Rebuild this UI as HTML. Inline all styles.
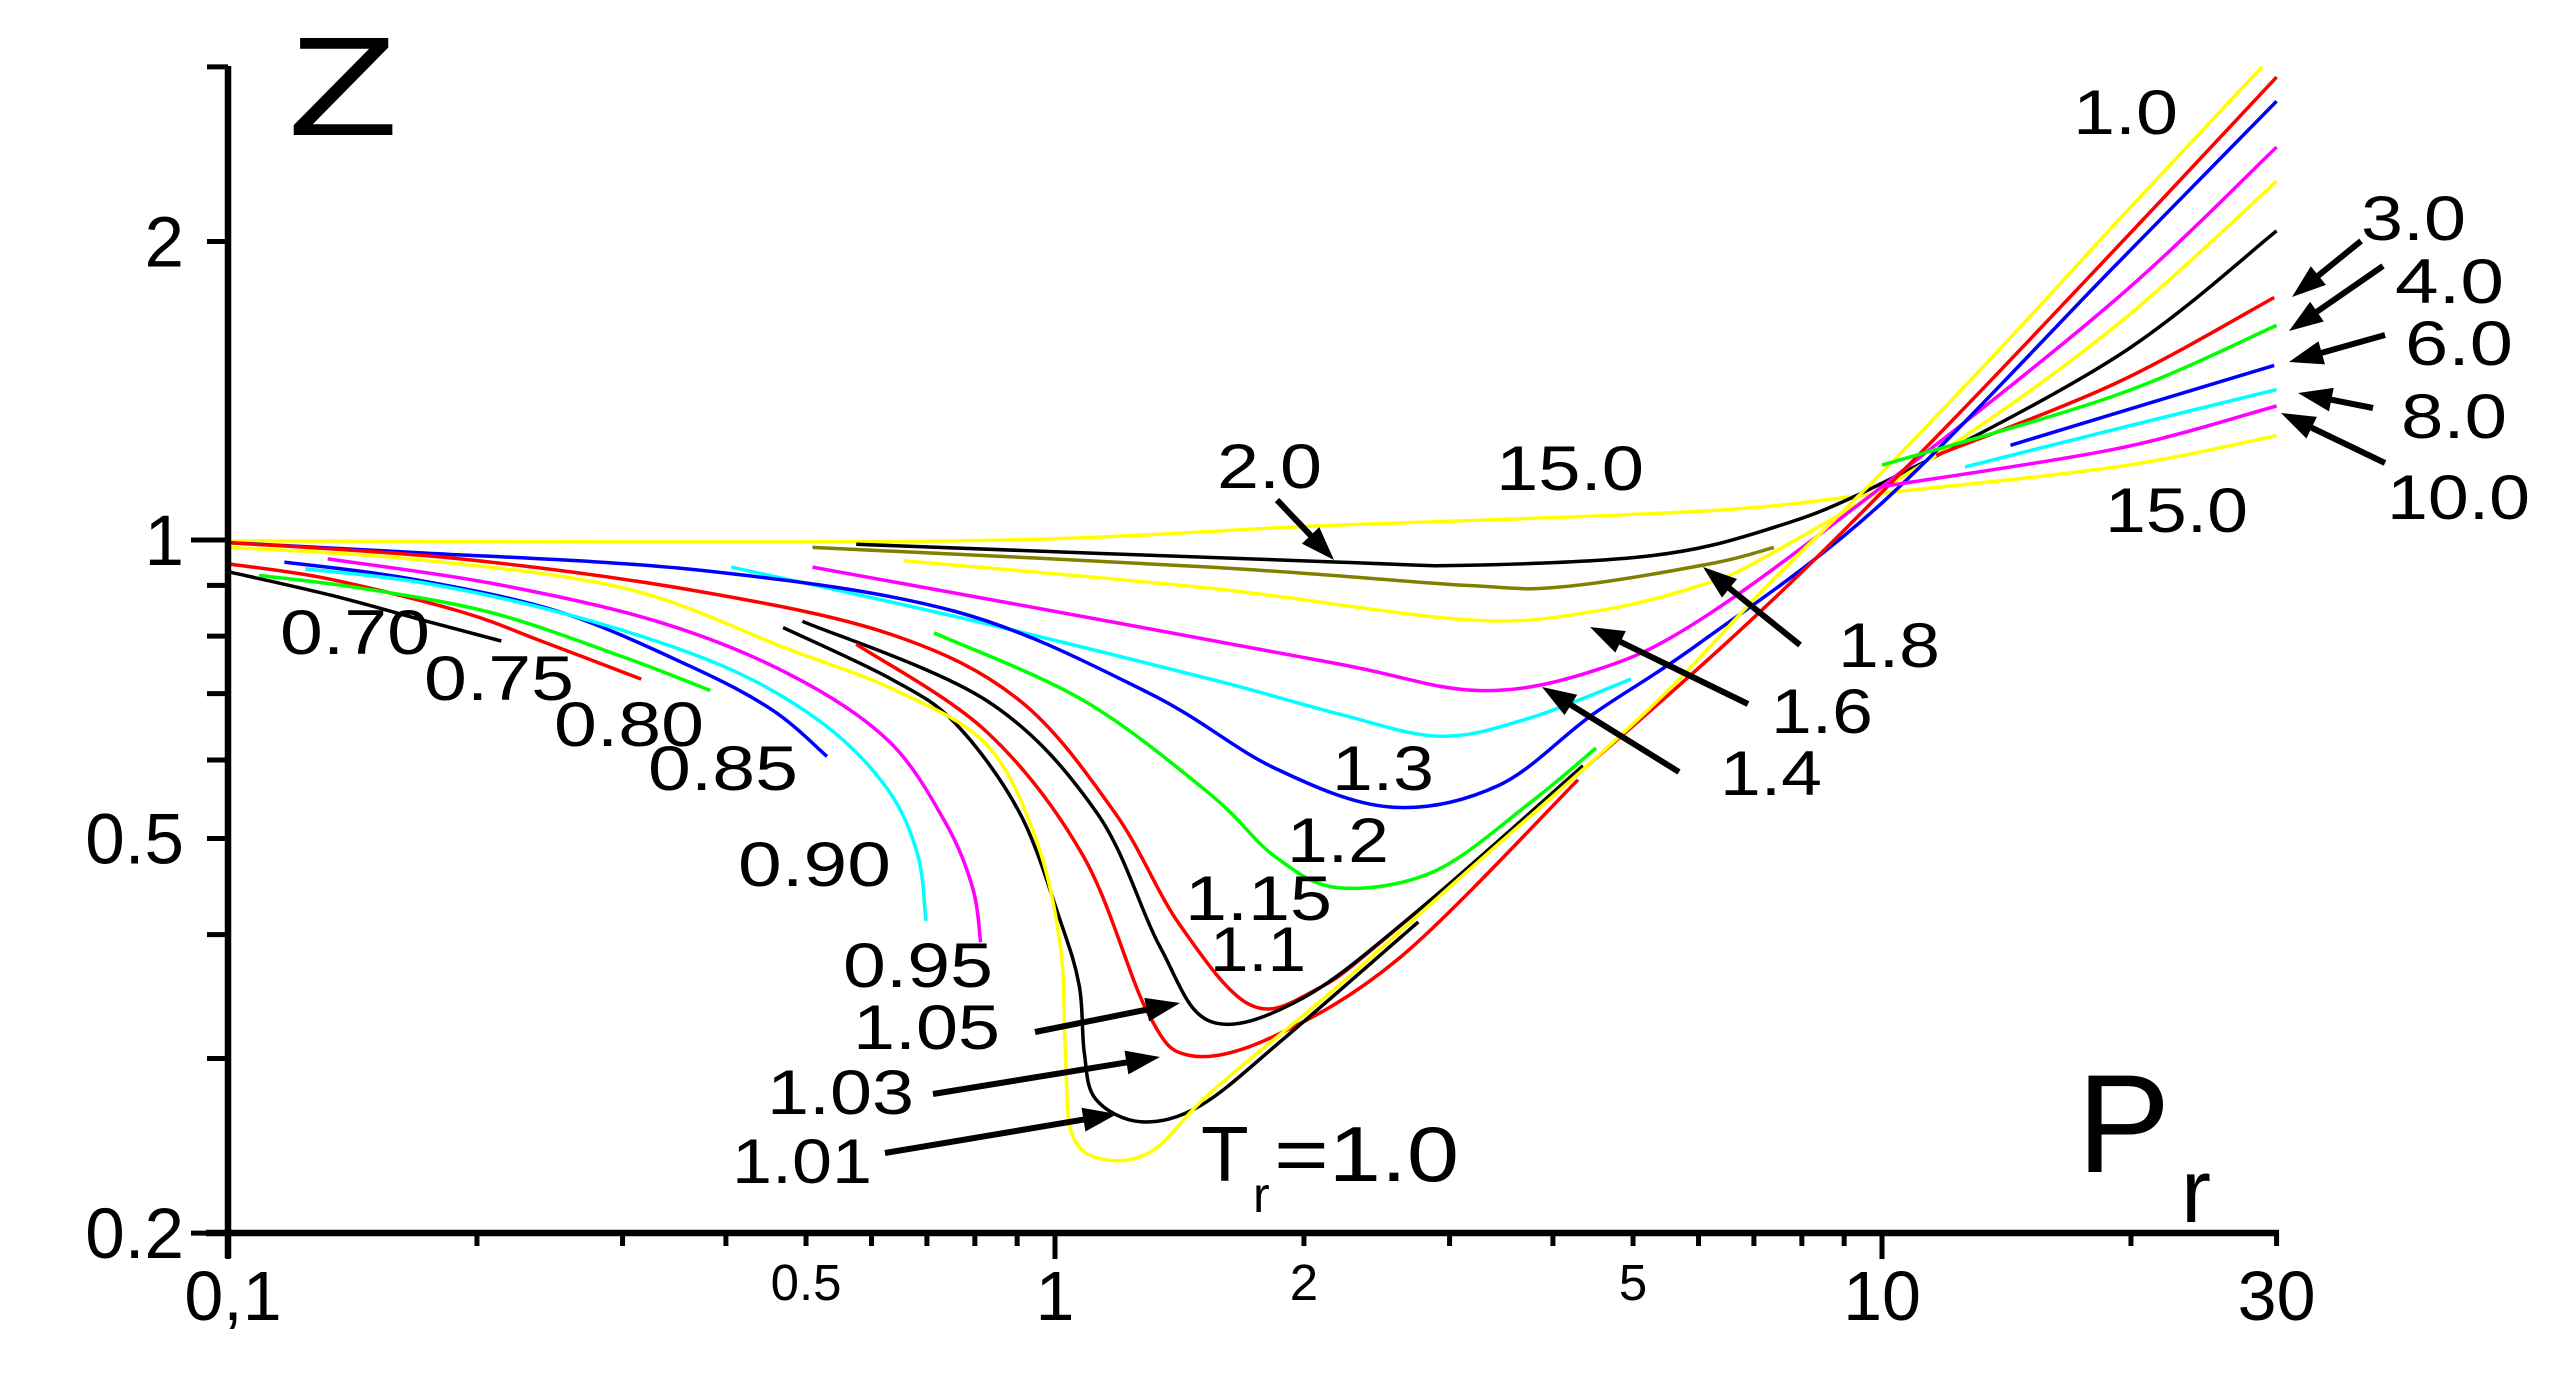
<!DOCTYPE html>
<html><head><meta charset="utf-8"><title>Compressibility chart</title>
<style>
html,body{margin:0;padding:0;background:#fff;}
svg{display:block;}
text{font-family:"Liberation Sans",Arial,sans-serif;fill:#000;}
</style></head>
<body>
<svg id="chart" width="2564" height="1393" viewBox="0 0 2564 1393" xmlns="http://www.w3.org/2000/svg">
<rect width="2564" height="1393" fill="#fff"/>
<g id="curves"></g>
<g id="axes"></g>
<g id="labels"></g>
</svg>
<script>
// ---- axis ticks ----
const xMajorTicks = [0.1, 1, 10];
const xMinorTicks = [0.2,0.3,0.4,0.5,0.6,0.7,0.8,0.9,2,3,4,5,6,7,8,9,20,30];
const xTickLabels = [["0,1",0.1,70],["0.5",0.5,51],["1",1,70],["2",2,51],["5",5,51],["10",10,70],["30",30,70]];
const yMajorTicks = [1, 0.2];
const yMinorTicks = [3,2,0.9,0.8,0.7,0.6,0.5,0.4,0.3];
const yTickLabels = [["2",2],["1",1],["0.5",0.5],["0.2",0.2]];

// ---- series (Pr values, Z values) ----
const P070=[0.1,0.133,0.174,0.214], Z070=[0.929,0.88,0.828,0.791];
const P075=[0.1,0.132,0.191,0.24,0.316], Z075=[0.946,0.914,0.847,0.79,0.724];
const P080=[0.109,0.145,0.209,0.302,0.383], Z080=[0.921,0.894,0.844,0.761,0.705];
const P085=[0.117,0.166,0.251,0.362,0.455,0.53], Z085=[0.95,0.914,0.847,0.746,0.674,0.605];
const P090=[0.124,0.174,0.263,0.397,0.524,0.627,0.682,0.698], Z090=[0.935,0.904,0.837,0.746,0.653,0.561,0.482,0.413];
const P095=[0.132,0.209,0.33,0.476,0.627,0.736,0.795,0.813], Z095=[0.957,0.904,0.828,0.733,0.629,0.52,0.446,0.393];
const P100=[0.1,0.166,0.302,0.476,0.642,0.826,0.948,1.015,1.029,1.048,1.14,1.31,1.541,2.2,3.15,4.48,5.65,7.27,10,13.9,19.2,28.8];
const Z100=[0.983,0.957,0.894,0.776,0.705,0.622,0.5,0.39,0.305,0.252,0.2375,0.242,0.277,0.355,0.463,0.6,0.72,0.9,1.17,1.56,2.09,3.0];
const P101=[0.469,0.634,0.758,0.906,1.015,1.07,1.085,1.12,1.27,1.5,1.89,2.75];
const Z101=[0.816,0.724,0.653,0.531,0.413,0.355,0.304,0.273,0.259,0.269,0.314,0.412];
const P103=[0.575,0.826,1.082,1.294,1.459,1.842,2.63,4.29];
const Z103=[0.785,0.641,0.48,0.334,0.302,0.316,0.381,0.573];
const P105=[0.495,0.826,1.123,1.337,1.541,1.98,2.73,4.35];
const Z105=[0.828,0.689,0.531,0.39,0.327,0.344,0.421,0.592];
const P110=[0.1,0.191,0.3725,0.634,0.906,1.181,1.413,1.719,2.055,2.63,6.36,11.06,19.2,30];
const Z110=[0.994,0.957,0.887,0.803,0.689,0.531,0.41,0.34,0.351,0.41,0.776,1.217,1.97,2.93];
const P120=[0.714,1.082,1.541,1.842,2.2,2.87,3.74,4.51];
const Z120=[0.806,0.689,0.554,0.48,0.446,0.463,0.542,0.617];
const P130=[0.1,0.166,0.3725,0.758,1.294,1.842,2.54,3.43,4.48,6.03,10,19.2,30];
const Z130=[0.994,0.972,0.932,0.847,0.702,0.589,0.538,0.565,0.668,0.788,1.09,1.896,2.77];
const P135=[0.406,0.758,1.541,2.2,2.92,3.74,4.97];
const Z135=[0.939,0.837,0.724,0.668,0.634,0.661,0.724];
const P140=[0.509,1.082,2.2,3.25,4.48,6.03,10,19.2,30];
const Z140=[0.939,0.837,0.75,0.705,0.738,0.831,1.132,1.75,2.49];
const P160=[0.657,1.541,3.15,4.48,6.03,7.27,11.8,19.2,30];
const Z160=[0.953,0.894,0.831,0.847,0.9,0.964,1.227,1.646,2.3];
const P180=[0.509,1.541,3.15,4.11,6.19,7.4];
const Z180=[0.983,0.939,0.9,0.897,0.946,0.983];
const P200=[0.575,2.2,3.15,5.25,7.27,10,19.2,30];
const Z200=[0.99,0.95,0.943,0.964,1.025,1.141,1.53,2.05];
const P300=[11.63,19.2,29.8], Z300=[1.217,1.44,1.756];
const P400=[10,19.2,30], Z400=[1.19,1.4,1.646];
const P600=[14.3,20.8,29.8], Z600=[1.246,1.37,1.5];
const P800=[12.6,19.2,30], Z800=[1.185,1.294,1.418];
const P1000=[10,19.2,30], Z1000=[1.132,1.236,1.365];
const P1500=[0.1,0.754,2.07,6.03,10,19.2,30], Z1500=[0.998,0.998,1.033,1.069,1.115,1.185,1.274];

const seriesList=[
 ["tr-0.70","#000",P070,Z070],["tr-0.75","#f00",P075,Z075],["tr-0.80","#0f0",P080,Z080],
 ["tr-0.85","#00f",P085,Z085],["tr-0.90","#0ff",P090,Z090],["tr-0.95","#f0f",P095,Z095],
 ["tr-15.0","#ff0",P1500,Z1500],["tr-2.0","#000",P200,Z200],["tr-1.8","#808000",P180,Z180],
 ["tr-1.6","#ff0",P160,Z160],["tr-1.4","#f0f",P140,Z140],["tr-1.35","#0ff",P135,Z135],
 ["tr-1.3","#00f",P130,Z130],["tr-1.2","#0f0",P120,Z120],["tr-1.1","#f00",P110,Z110],
 ["tr-1.05","#000",P105,Z105],["tr-1.03","#f00",P103,Z103],["tr-1.01","#000",P101,Z101],
 ["tr-1.0","#ff0",P100,Z100],["tr-3.0","#f00",P300,Z300],["tr-4.0","#0f0",P400,Z400],
 ["tr-6.0","#00f",P600,Z600],["tr-8.0","#0ff",P800,Z800],["tr-10.0","#f0f",P1000,Z1000]
];

// ---- axis functions ----
const X0=228, XDEC=827, Y1=540, YDEC=991.6, YB=1233, YT=66, XR=2279;
function xs(p){return X0+XDEC*(Math.log10(p)+1);}
function ys(z){return Y1-YDEC*Math.log10(z);}
const NS="http://www.w3.org/2000/svg";
function mk(tag,attrs,parent){const e=document.createElementNS(NS,tag);for(const k in attrs)e.setAttribute(k,attrs[k]);parent.appendChild(e);return e;}

function splinePath(pts){
 let d="M"+pts[0][0].toFixed(1)+","+pts[0][1].toFixed(1);
 for(let i=0;i<pts.length-1;i++){
  const p0=pts[Math.max(0,i-1)],p1=pts[i],p2=pts[i+1],p3=pts[Math.min(pts.length-1,i+2)];
  const c1=[p1[0]+(p2[0]-p0[0])/6,p1[1]+(p2[1]-p0[1])/6];
  const c2=[p2[0]-(p3[0]-p1[0])/6,p2[1]-(p3[1]-p1[1])/6];
  d+=" C"+c1[0].toFixed(1)+","+c1[1].toFixed(1)+" "+c2[0].toFixed(1)+","+c2[1].toFixed(1)+" "+p2[0].toFixed(1)+","+p2[1].toFixed(1);
 }
 return d;
}
const cg=document.getElementById("curves");
seriesList.forEach(s=>{
 const pts=s[2].map((p,i)=>[xs(p),ys(s[3][i])]);
 const el=mk("path",{d:splinePath(pts),fill:"none",stroke:s[1],"stroke-width":3.5,"stroke-linejoin":"round"},cg);
 
 
});

// ---- axes ----
const ag=document.getElementById("axes");
let e;
e=mk("line",{x1:206,y1:YB,x2:XR,y2:YB,stroke:"#000","stroke-width":6.5},ag);

e=mk("line",{x1:X0,y1:YT,x2:X0,y2:YB+25,stroke:"#000","stroke-width":6.5},ag);

xMajorTicks.forEach(p=>{e=mk("line",{x1:xs(p),y1:YB,x2:xs(p),y2:YB+26,stroke:"#000","stroke-width":5},ag);
 });
xMinorTicks.forEach(p=>{e=mk("line",{x1:xs(p),y1:YB,x2:xs(p),y2:YB+13,stroke:"#000","stroke-width":5},ag);
 });
yMajorTicks.forEach(z=>{e=mk("line",{x1:X0-37,y1:ys(z),x2:X0,y2:ys(z),stroke:"#000","stroke-width":5},ag);
 });
yMinorTicks.forEach(z=>{e=mk("line",{x1:X0-21,y1:ys(z),x2:X0,y2:ys(z),stroke:"#000","stroke-width":5},ag);
 });
xTickLabels.forEach(t=>{
 const big=t[2]>60;
 e=mk("text",{x:xs(t[1])+(t[0]==="0,1"?5:0),y:big?1320:1300,"font-size":t[2],"text-anchor":"middle"},ag);
 e.textContent=t[0];
 
});
yTickLabels.forEach(t=>{
 e=mk("text",{x:184,y:ys(t[1])+25,"font-size":71,"text-anchor":"end"},ag);
 e.textContent=t[0];
 
});

// ---- labels ----
const lg=document.getElementById("labels");
const curveLabels=[
 ["0.70",280,654,150],["0.75",424,700,150],["0.80",554,746,150],["0.85",648,790,150],
 ["0.90",738,886,153],["0.95",843,987,150],["1.05",853,1049,147],["1.03",767,1114,147],
 ["1.01",732,1183,140],["1.1",1210,971,96],["1.15",1185,920,147],["1.2",1287,862,102],
 ["1.3",1332,790,102],["1.4",1720,795,102],["1.6",1771,733,102],["1.8",1838,667,102],
 ["2.0",1217,488,105],["15.0",1496,490,148],["1.0",2073,134,105],["3.0",2361,240,105],
 ["4.0",2395,303,109],["6.0",2405,365,108],["8.0",2401,438,106],["10.0",2387,519,143],
 ["15.0",2105,532,143]
];
curveLabels.forEach(l=>{
 e=mk("text",{x:l[1],y:l[2],"font-size":63,textLength:l[3],lengthAdjust:"spacingAndGlyphs"},lg);
 e.textContent=l[0];
 
});
e=mk("text",{x:288,y:135,"font-size":141,textLength:110,lengthAdjust:"spacingAndGlyphs"},lg);
e.textContent="Z";
e=mk("text",{x:2077,y:1172,"font-size":140},lg);
e.textContent="P";
e=mk("text",{x:2181,y:1222,"font-size":90},lg);
e.textContent="r";
e=mk("text",{x:1201,y:1181,"font-size":78},lg);
e.textContent="T";
e=mk("text",{x:1253,y:1212,"font-size":50},lg);
e.textContent="r";
e=mk("text",{x:1274,y:1181,"font-size":78,textLength:185,lengthAdjust:"spacingAndGlyphs"},lg);
e.textContent="=1.0";

// arrows [tailX, tailY, headX, headY] in pixel space (annotation geometry)
const arrows=[
 [1277,500,1334,560],[1800,645,1703,567],[1748,704,1590,627],[1679,772,1542,687],
 [1035,1032,1180,1003],[933,1094,1160,1057],[885,1153,1117,1114],
 [2361,241,2292,297],[2383,266,2289,331],[2385,335,2289,362],[2373,408,2298,393],[2385,463,2281,413]
];
arrows.forEach(a=>{
 const dx=a[2]-a[0],dy=a[3]-a[1],L=Math.hypot(dx,dy),ux=dx/L,uy=dy/L,h=34,w=12;
 const bx=a[2]-ux*h,by=a[3]-uy*h;
 const g=mk("g",{},lg);
 
 mk("line",{x1:a[0],y1:a[1],x2:bx+ux*4,y2:by+uy*4,stroke:"#000","stroke-width":6},g);
 mk("polygon",{points:a[2]+","+a[3]+" "+(bx-uy*w)+","+(by+ux*w)+" "+(bx+uy*w)+","+(by-ux*w),fill:"#000"},g);
});
</script>
</body></html>
